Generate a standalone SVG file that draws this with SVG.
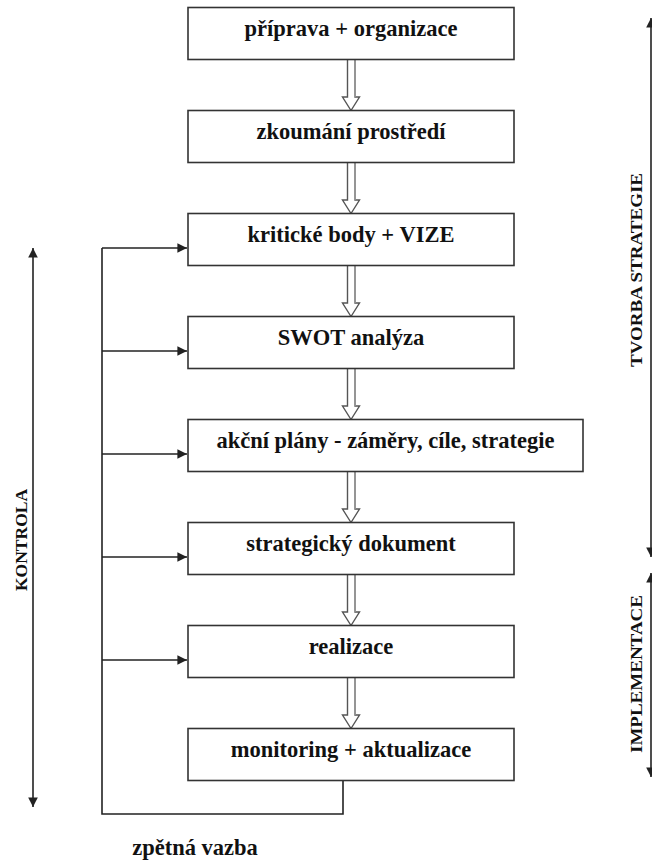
<svg xmlns="http://www.w3.org/2000/svg" width="652" height="862" viewBox="0 0 652 862">
<style>
.box{fill:#fff;stroke:#333;stroke-width:1.6}
.t{font-family:"Liberation Serif","Times New Roman",serif;font-weight:bold;font-size:22.5px;fill:#111;text-anchor:middle}
.s{font-family:"Liberation Serif","Times New Roman",serif;font-weight:bold;font-size:17.5px;fill:#111;text-anchor:middle}
.ln{fill:none;stroke:#222;stroke-width:1.6}
.ha{fill:#fff;stroke:#555;stroke-width:1.4}
.hg{fill:none;stroke:#999;stroke-width:1.6}
</style>
<defs>
<marker id="ah" viewBox="0 0 10 10" refX="10" refY="5" markerWidth="6" markerHeight="6" orient="auto-start-reverse">
<path d="M0,0 L10,5 L0,10 Z" fill="#222"/>
</marker>
</defs>

<g id="connectors">
<g id="hollow">
<path class="ha" d="M347.5,59.5 V97 H342.5 L351,110.5 L359.5,97 H355 V59.5"/>
<path class="ha" d="M347.5,162.5 V200 H342.5 L351,213.5 L359.5,200 H355 V162.5"/>
<path class="ha" d="M347.5,265.5 V303 H342.5 L351,316.5 L359.5,303 H355 V265.5"/>
<path class="ha" d="M347.5,368.5 V406 H342.5 L351,419.5 L359.5,406 H355 V368.5"/>
<path class="ha" d="M347.5,471.5 V509 H342.5 L351,522.5 L359.5,509 H355 V471.5"/>
<path class="ha" d="M347.5,574.5 V612 H342.5 L351,625.5 L359.5,612 H355 V574.5"/>
<path class="ha" d="M347.5,677.5 V715 H342.5 L351,728.5 L359.5,715 H355 V677.5"/>
<path class="hg" d="M355,60 V97 M355,163 V200 M355,266 V303 M355,369 V406 M355,472 V509 M355,575 V612 M355,678 V715"/>
</g>
<path class="ln" d="M343,780.5 V814 H102 V248"/>
<path class="ln" d="M102,248 H187" marker-end="url(#ah)"/>
<path class="ln" d="M102,351 H187" marker-end="url(#ah)"/>
<path class="ln" d="M102,454 H187" marker-end="url(#ah)"/>
<path class="ln" d="M102,557 H187" marker-end="url(#ah)"/>
<path class="ln" d="M102,660 H187" marker-end="url(#ah)"/>
<path class="ln" d="M33,248 V807" marker-start="url(#ah)" marker-end="url(#ah)"/>
<path class="ln" d="M651,18 V557" marker-start="url(#ah)" marker-end="url(#ah)"/>
<path class="ln" d="M651,573 V777" marker-start="url(#ah)" marker-end="url(#ah)"/>
</g>

<g id="n1"><rect class="box" x="188" y="7.5" width="326" height="52"/><text class="t" x="351" y="35.5">příprava + organizace</text></g>
<g id="n2"><rect class="box" x="188" y="110.5" width="326" height="52"/><text class="t" x="351" y="138.5">zkoumání prostředí</text></g>
<g id="n3"><rect class="box" x="188" y="213.5" width="326" height="52"/><text class="t" x="351" y="241.5">kritické body + VIZE</text></g>
<g id="n4"><rect class="box" x="188" y="316.5" width="326" height="52"/><text class="t" x="351" y="344.5">SWOT analýza</text></g>
<g id="n5"><rect class="box" x="188" y="419.5" width="395" height="52"/><text class="t" x="385.5" y="447.5">akční plány - záměry, cíle, strategie</text></g>
<g id="n6"><rect class="box" x="188" y="522.5" width="326" height="52"/><text class="t" x="351" y="550.5">strategický dokument</text></g>
<g id="n7"><rect class="box" x="188" y="625.5" width="326" height="52"/><text class="t" x="351" y="653.5">realizace</text></g>
<g id="n8"><rect class="box" x="188" y="728.5" width="326" height="52"/><text class="t" x="351" y="756.5">monitoring + aktualizace</text></g>

<g id="labels">
<text class="t" x="195" y="855">zpětná vazba</text>
<text class="s" transform="translate(27,540) rotate(-90)">KONTROLA</text>
<text class="s" transform="translate(642,270) rotate(-90)" textLength="194" lengthAdjust="spacingAndGlyphs">TVORBA STRATEGIE</text>
<text class="s" transform="translate(642,674) rotate(-90)" textLength="158" lengthAdjust="spacingAndGlyphs">IMPLEMENTACE</text>
</g>
</svg>
